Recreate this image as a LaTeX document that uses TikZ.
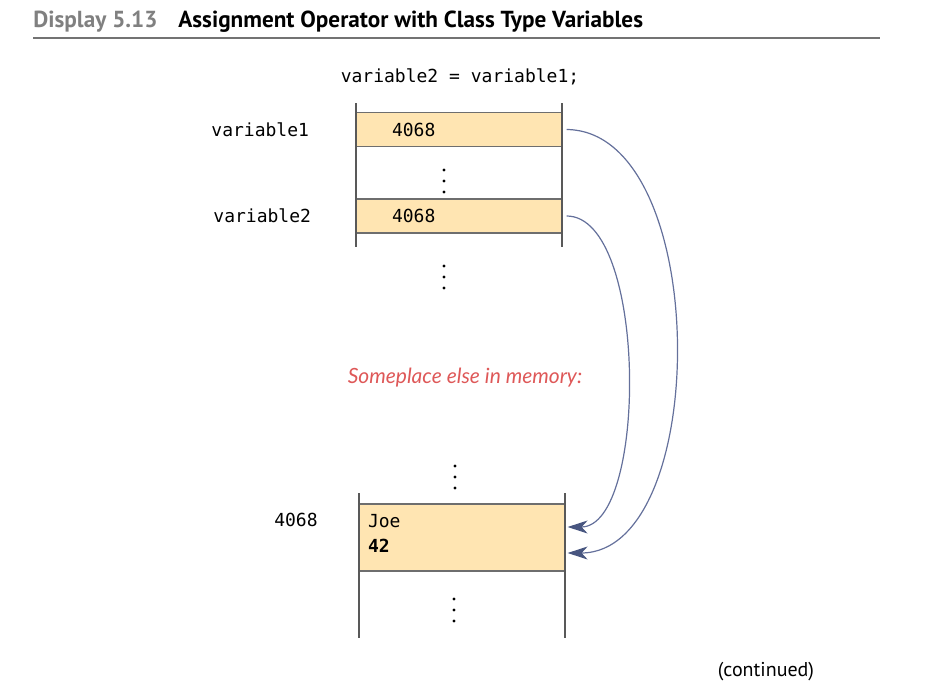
\documentclass[tikz,border=0pt]{standalone}
\usepackage{fontspec}
\setmainfont{PT Sans}
\setmonofont{DejaVu Sans Mono}
\newfontfamily\notefont{Lato}
\usetikzlibrary{positioning,arrows.meta}
\definecolor{cellfill}{RGB}{255,229,178}
\definecolor{ptrblue}{RGB}{100,112,155}
\definecolor{ptrhead}{RGB}{72,86,128}
\definecolor{notered}{RGB}{222,88,88}
\definecolor{rulegray}{RGB}{110,110,110}

\begin{document}
\begin{tikzpicture}[x=0.5pt,y=-0.5pt,
    cell/.style={draw=rulegray, line width=0.6pt, fill=cellfill, minimum width=103pt,
      minimum height=17pt, inner ysep=0pt, align=left, font=\ttfamily\fontsize{9}{11}\selectfont},
    lbl/.style={inner sep=0pt, font=\ttfamily\fontsize{9}{11}\selectfont},
    wall/.style={draw=black!65, line width=1pt},
    ptr/.style={draw=ptrblue, line width=0.6pt, -{Stealth[length=10pt,width=6.5pt,inset=3pt,color=ptrhead]}}
  ]
  \useasboundingbox (0,0) rectangle (948,696);

  % Heading and rule
  \node[anchor=base west, inner sep=0pt, text=black!50, font=\fontsize{11.6}{13}\selectfont\bfseries] (disp) at (33,27) {Display 5.13};
  \node[anchor=base west, inner sep=0pt, font=\fontsize{11.6}{13}\selectfont\bfseries] (title) at (178,27) {Assignment Operator with Class Type Variables};
  \draw[draw=black!55, line width=1pt] (33,38) -- (880,38);

  % The statement
  \node[lbl] (stmt) at (460,77) {variable2 = variable1;};

  % Variables in memory
  \node[cell, text width=67pt, inner xsep=18pt] (v1) at (459,129.5) {4068};
  \node[cell, text width=67pt, inner xsep=18pt] (v2) at (459,216) {4068};
  \node[lbl, left=23pt of v1] (n1) {variable1};
  \node[lbl, left=22pt of v2] (n2) {variable2};
  \draw[wall] (356,103) -- (356,247);
  \draw[wall] (562,103) -- (562,247);

  % Note
  \node[inner sep=0pt, text=notered, font=\notefont\itshape\fontsize{10.5}{12}\selectfont] (note) at (465,378) {Someplace else in memory:};

  % The object at 4068
  \node[cell, minimum height=33.5pt, text width=94pt, inner xsep=4.5pt, text depth=17pt] (obj) at (462,537.5) {Joe\\[1.5pt]\textbf{42}};
  \node[lbl, anchor=east] (addr) at (318,520) {4068};
  \draw[wall] (359,493) -- (359,638);
  \draw[wall] (565,493) -- (565,638);

  % Vertical dots
  \coordinate (d1) at (444,181);
  \coordinate (d2) at (444,277);
  \coordinate (d3) at (455,477);
  \coordinate (d4) at (454,610);
  \foreach \c in {d1,d2,d3,d4}
    \foreach \k in {-1,0,1}
      \fill ([yshift=\k*5.5pt]\c) circle (0.8pt);

  % Pointers
  \draw[ptr] ([xshift=2pt]v1.east) .. controls (712,131) and (712,553) .. ([xshift=1pt,yshift=-7.75pt]obj.east);
  \draw[ptr] ([xshift=2pt]v2.east) .. controls (648,216) and (648,527) .. ([xshift=1pt,yshift=5.25pt]obj.east);

  \node[inner sep=0pt, font=\fontsize{10}{12}\selectfont] (cont) at (766,672) {(continued)};
\end{tikzpicture}
\end{document}
